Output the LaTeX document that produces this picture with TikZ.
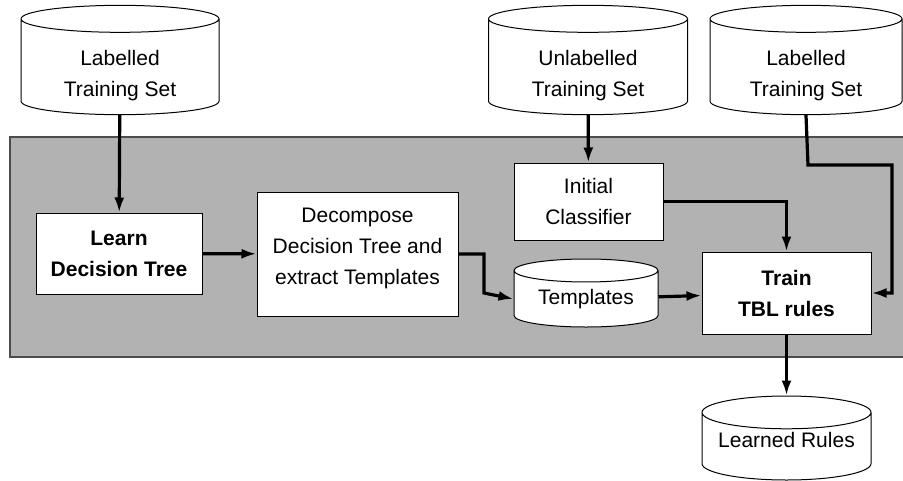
\documentclass[tikz,border=0pt]{standalone}
\usepackage{fontspec}
\setmainfont{Liberation Sans}
\usetikzlibrary{shapes.geometric,arrows.meta}
\definecolor{panelgray}{RGB}{178,178,178}
\begin{document}
\begin{tikzpicture}[x=1pt,y=-1pt,
    box/.style={draw,fill=white,line width=1pt,align=center,inner sep=0pt,
                font=\fontsize{21}{31}\selectfont},
    store/.style={cylinder,shape border rotate=90,aspect=0.24,draw,fill=white,
                  line width=1pt,align=center,inner sep=0pt,anchor=shape center,
                  font=\fontsize{21}{31}\selectfont},
    flow/.style={line width=3.2pt,-{Latex[length=15pt,width=10pt]}}]
    \useasboundingbox (0,0) rectangle (903,480);
    % grey frame round the learner
    \draw[fill=panelgray,draw=black!70,line width=1.2pt] (10,137) rectangle (910,357);
    % data stores
    \node[store,minimum width=198,minimum height=100] (lts1) at (120,60) {\rule{0pt}{33pt}Labelled\\Training Set};
    \node[store,minimum width=199,minimum height=100] (uts) at (588,60) {\rule{0pt}{33pt}Unlabelled\\Training Set};
    \node[store,minimum width=192,minimum height=100] (lts2) at (806,60) {\rule{0pt}{33pt}Labelled\\Training Set};
    \node[store,minimum width=144,minimum height=68] (tpl) at (586,293) {Templates};
    \node[store,minimum width=169,minimum height=84] (rules) at (786.5,438) {Learned Rules\rule[-14pt]{0pt}{14pt}};
    % steps
    \node[box,minimum width=166,minimum height=81] (learn) at (119,253.5) {\bfseries Learn\\\bfseries Decision Tree};
    \node[box,minimum width=201,minimum height=124] (decomp) at (357.5,254) {Decompose\\Decision Tree and\\extract Templates\rule[-14.5pt]{0pt}{14.5pt}};
    \node[box,minimum width=149,minimum height=77] (init) at (588.5,201.5) {Initial\\Classifier};
    \node[box,minimum width=169,minimum height=82] (train) at (786.5,293) {\bfseries Train\\\bfseries TBL rules};
    % flows
    \draw[flow] (lts1) -- (learn);
    \draw[flow] (learn) -- (decomp);
    \draw[flow] (decomp.east) -- (484,254) -- (484,293) -- (tpl.west);
    \draw[flow] (uts) -- (init);
    \draw[flow] (init.east) -| (train.north);
    \draw[flow] (tpl) -- (train);
    \draw[flow] (lts2.south) -- (808,165) -- (892,165) -- (892,293) -- (train.east);
    \draw[flow] (train) -- (rules);
\end{tikzpicture}
\end{document}
